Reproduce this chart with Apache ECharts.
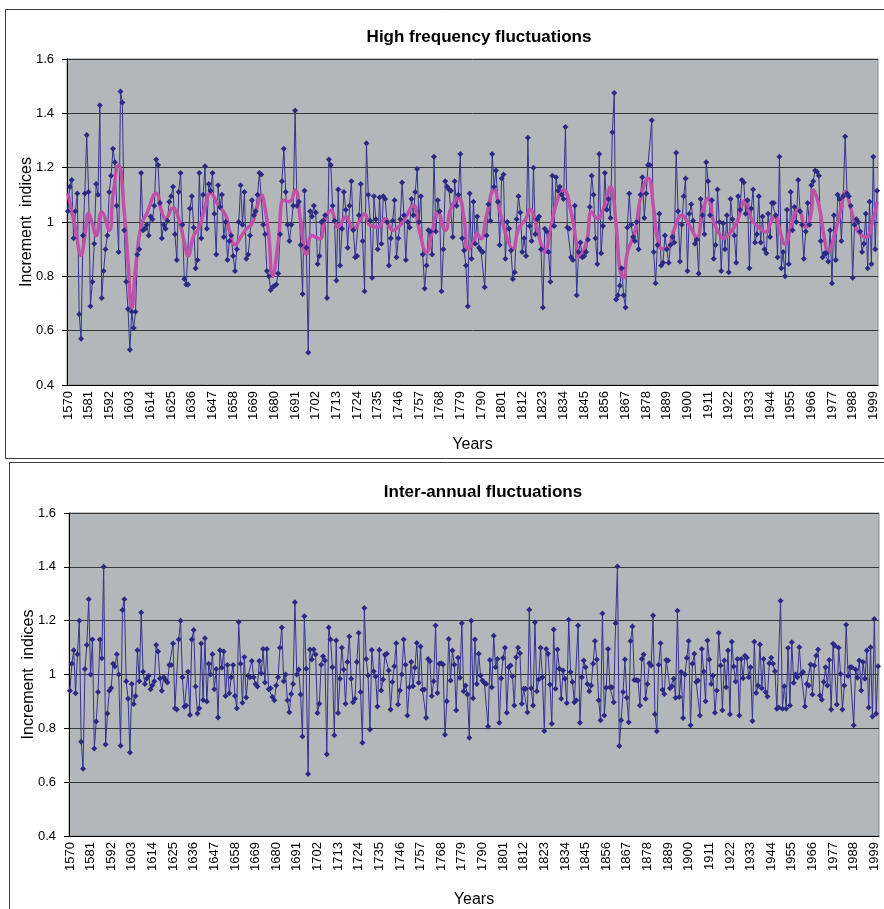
<!DOCTYPE html>
<html><head><meta charset="utf-8">
<script src="https://cdn.jsdelivr.net/npm/echarts@6/dist/echarts.min.js"></script>
<style>html,body{margin:0;padding:0;background:#fff}#c{width:884px;height:909px}</style>
</head><body><div id="c"></div>
<script>
const firstYear = 1570, lastYear = 2001;
const years = [];
for (let y = firstYear; y <= lastYear; y++) years.push(String(y));

// High frequency fluctuations: raw increment indices (1570 onwards, one per year)
const hfA = [1.04,1.13,1.155,0.94,1.04,1.105,0.66,0.57,0.95,1.105,
 1.32,1.11,0.69,0.78,0.92,1.14,1.10,1.43,0.72,0.82,
 0.90,0.95,1.11,1.17,1.27,1.22,1.06,0.89,1.48,1.44,
 0.97,0.78,0.68,0.53,0.67,0.61,0.67,0.88,0.90,1.18,
 0.97,0.975,0.99,0.95,1.02,1.01,1.06,1.23,1.21,1.07,
 0.94,0.99,0.975,1.005,1.075,1.095,1.13,0.955,0.86,
 1.11,1.18,0.99,0.79,0.77,0.77,1.05,1.095,0.98,0.83,
 0.86,1.18,0.94,1.10,1.205,0.975,1.14,1.115,1.18,1.03,
 0.88,1.135,1.055,1.10,0.945,1.0,0.86,0.93,0.95,0.875,
 0.82,0.90,1.00,1.135,0.99,1.11,0.865,0.88,0.95,1.08,
 1.025,1.04,1.10,1.18,1.175,0.99,0.955,0.82,0.80,0.75];
const hfB = [0.76,0.765,0.77,0.81,0.955,1.15,1.27,1.11,0.99,0.93,
 0.99,1.06,1.41,1.06,1.075,0.915,0.735,1.115,0.905,0.52,
 1.04,1.02,1.06,1.035,0.845,0.875,1.0,1.005,1.025,0.72,
 1.23,1.21,1.06,1.005,0.785,1.12,0.84,0.975,1.11,1.045,
 0.905,1.06,1.15,0.97,0.87,0.875,1.025,1.14,0.93,0.745,
 1.29,1.10,1.005,0.795,1.095,1.01,0.9,1.09,0.92,
 1.095,1.085,1.0,0.84,0.94,1.005,1.08,0.87,0.94,1.01,
 1.145,1.025,0.86,1.0,0.98,1.085,1.025,1.11,1.195,1.0,
 1.095,0.88,0.755,0.84,0.97,0.965,0.88,1.24,0.965,1.08,
 1.04,0.745,0.9,1.15,1.13,1.12,1.115,0.945,1.15,1.06,
 1.10,1.25,0.94,0.895,0.84,0.69,1.105,0.865,1.075,0.92];
const hfC = [1.02,0.905,0.895,0.89,0.76,0.95,1.065,1.005,1.25,1.13,
 1.19,1.075,0.915,1.16,1.175,0.865,1.0,0.975,0.895,0.79,
 0.815,1.01,1.095,1.035,0.89,0.94,0.875,1.31,0.985,0.93,
 1.20,0.955,1.01,1.02,0.90,0.685,0.975,0.965,0.89,0.78,
 1.17,0.985,1.165,1.115,1.13,1.10,1.085,1.35,0.98,
 0.975,0.87,0.86,1.06,0.73,0.89,0.925,0.87,0.875,0.89,
 0.935,1.055,1.17,1.10,0.94,0.845,1.25,0.885,0.985,1.18,
 1.045,1.085,1.015,1.33,1.475,0.715,0.73,0.765,0.83,0.73,
 0.685,0.98,1.105,0.99,0.945,0.93,1.0,0.90,1.10,1.165,
 1.015,1.105,1.21,1.21,1.375,0.89,0.775,0.915,1.03,0.84,
 0.85,0.95,0.90,0.85,0.915,0.945,0.925,1.255,1.04,0.855];
const hfD = [0.99,1.095,1.16,0.82,1.03,1.065,1.005,0.92,0.935,0.81,
 1.085,1.025,0.955,1.22,1.15,1.025,1.08,0.865,0.915,1.12,
 1.0,0.82,0.995,0.90,1.025,0.815,1.085,1.01,0.95,
 0.85,1.095,1.045,1.155,1.145,1.03,1.08,0.83,1.05,1.12,
 0.925,0.955,1.095,0.925,1.02,0.90,0.885,1.03,0.945,1.07,
 1.07,1.025,0.87,1.24,0.83,0.89,0.80,1.045,0.845,1.11,
 0.97,1.055,1.0,1.155,1.04,0.99,0.865,0.965,1.07,
 0.99,1.135,1.15,1.19,1.185,1.17,0.93,0.87,0.885,0.885,
 0.855,0.97,0.775,1.025,0.86,1.10,1.085,0.93,1.095,1.315,
 1.105,1.095,1.06,0.795,0.99,1.01,1.0,0.965,0.89,0.92,
 1.03,0.83,1.075,0.845,1.24,0.90,1.115];

// Smoothed curve (read at turning points)
const smoothYears = [1570,1574,1577,1579,1581,1583,1585,1588,1592,1594,1597,1600,1602,1604,1606,1609,1612,1617,1620,1622,1626,1629,1632,1634,1637,1640,1643,1646,1650,1654,1656,1659,1662,1665,1668,1671,1673,1675,1677,1679,1682,1685,1688,1691,1694,1697,1700,1704,1707,1710,1714,1718,1722,1725,1728,1731,1735,1739,1743,1747,1750,1754,1757,1761,1764,1767,1771,1774,1778,1781,1783,1786,1788,1790,1793,1797,1800,1804,1807,1810,1814,1816,1819,1822,1824,1827,1831,1834,1838,1841,1842,1846,1849,1852,1856,1859,1862,1864,1866,1868,1872,1875,1879,1882,1884,1887,1890,1893,1897,1901,1905,1908,1911,1914,1917,1919,1923,1926,1931,1934,1938,1942,1944,1947,1949,1952,1956,1959,1963,1966,1967,1970,1973,1975,1978,1982,1984,1987,1990,1993,1995,1999,2001];
const smoothVals = [1.105,0.975,0.878,0.95,1.031,0.994,0.95,1.037,0.969,1.10,1.209,1.037,0.851,0.683,0.826,0.988,1.031,1.106,1.037,1.012,1.052,1.012,0.925,0.876,0.95,0.981,1.056,1.106,1.062,1.025,0.969,0.916,0.944,0.975,0.994,1.062,1.10,1.05,0.95,0.80,0.925,1.081,1.075,1.118,1.0,0.882,0.95,0.938,1.006,1.043,0.981,1.019,0.971,1.0,1.029,0.988,0.981,1.012,0.969,0.988,1.019,1.062,0.975,0.888,0.963,1.037,0.969,1.05,1.087,1.012,0.901,0.925,0.957,0.938,1.025,1.118,1.043,0.938,0.901,0.975,1.012,1.047,1.0,0.919,0.888,0.975,1.087,1.118,1.037,0.913,0.87,0.919,1.037,1.012,1.062,1.13,0.988,0.826,0.795,0.888,0.963,1.087,1.161,1.05,0.938,0.901,0.907,0.975,1.025,0.988,0.944,1.037,1.087,1.0,0.957,0.94,0.963,0.994,1.081,1.012,0.981,0.963,0.994,1.025,0.975,0.919,1.006,1.047,0.981,1.037,1.118,1.062,0.938,0.888,0.944,1.056,1.112,1.05,0.975,0.95,0.944,1.012,1.075];

// Inter-annual fluctuations (1570 onwards, one per year)
const iaA = [0.94,1.04,1.09,0.93,1.075,1.20,0.75,0.65,1.02,1.11,
 1.28,1.0,1.13,0.725,0.825,0.935,1.13,1.06,1.40,0.74,
 0.855,0.94,0.95,1.04,1.03,1.075,1.0,0.735,1.24,1.28,
 0.975,0.91,0.71,0.965,0.89,0.92,1.09,0.975,1.23,1.01,
 0.965,0.985,0.995,0.945,0.96,0.975,1.11,1.085,0.985,0.94,
 0.99,0.98,0.97,1.035,1.035,1.115,0.875,0.87,1.13,
 1.20,0.99,0.88,0.885,1.01,0.85,1.13,1.165,0.955,0.855,
 0.875,1.115,0.905,1.135,0.9,1.04,1.0,1.075,0.945,1.02,
 0.84,1.09,1.025,1.085,0.92,1.035,0.93,0.99,1.035,0.92,
 0.875,1.195,1.04,0.895,1.065,0.915,0.995,0.99,1.05,0.99,
 0.965,0.955,1.05,1.005,1.095,0.97,1.095,0.945];
const iaB = [0.949,0.916,0.904,0.959,0.99,1.099,1.175,0.975,1.0,0.904,
 0.86,0.928,0.965,1.268,1.0,1.019,0.926,0.77,1.216,1.021,
 0.63,1.093,1.056,1.093,1.074,0.857,0.891,1.036,1.068,
 1.052,0.704,1.175,1.13,1.027,0.774,1.126,0.857,0.984,1.099,
 1.019,0.891,1.046,1.141,0.984,0.897,0.91,1.046,1.154,0.935,
 0.746,1.247,1.058,0.996,0.796,1.091,1.012,0.993,0.881,1.091,
 0.941,0.981,1.073,1.077,1.015,0.87,0.972,1.031,1.116,0.889,
 0.941,1.0,1.13,1.036,0.848,0.953,1.046,0.956,1.025,1.117,
 0.969,1.104,0.943,0.944,0.839,1.058,1.049,0.92,0.975,1.182,
 0.931,1.04,1.042,1.037,0.776,0.901,1.132,0.978,1.089,1.036,
 0.867,1.062,0.988,1.19,0.938,0.959,0.926,0.765,1.2,0.912];
const iaC = [1.13,0.965,1.077,0.996,0.978,0.969,0.965,0.807,1.054,0.953,
 1.144,1.027,1.058,0.821,0.986,1.061,1.099,0.858,1.027,1.033,
 0.993,0.885,1.064,1.099,1.079,0.891,0.947,0.947,0.86,
 1.241,0.949,0.885,1.194,0.938,0.981,1.099,0.99,0.79,1.095,
 1.077,0.963,0.817,1.167,0.947,1.093,1.021,0.91,1.015,0.984,
 0.894,1.203,1.009,0.972,0.897,0.904,1.182,0.821,0.99,1.052,
 1.027,0.965,0.938,0.959,1.04,1.124,1.056,0.904,0.83,1.227,
 0.848,0.951,1.095,0.953,0.953,0.897,1.19,1.401,0.734,0.83,
 0.935,1.056,0.914,0.823,1.124,1.178,0.98,0.98,0.978,0.885,
 1.058,1.074,0.91,0.965,1.042,1.033,1.219,0.852,0.789,1.036,
 1.116,0.943,0.928,1.054,1.052,0.949,0.956,0.984,0.914,1.237];
const iaD = [0.916,1.009,0.838,1.0,1.061,1.124,0.811,1.04,1.077,
 0.972,0.978,0.848,1.095,1.011,0.901,1.126,1.056,0.965,0.996,
 0.858,0.941,1.154,1.033,0.867,1.052,0.953,1.089,0.852,1.122,
 1.03,0.974,1.058,0.848,1.058,0.986,1.07,1.062,0.99,1.027,
 0.827,1.122,0.931,0.959,1.111,0.949,1.058,0.935,0.918,1.042,
 1.062,1.04,1.012,0.873,0.877,1.274,0.873,0.956,0.873,1.098,
 0.885,1.12,0.969,1.0,0.99,1.101,1.002,1.009,0.881,0.965,
 0.959,1.037,0.926,1.033,1.07,1.093,0.922,0.906,0.972,
 1.027,0.959,1.054,0.87,1.114,1.107,0.889,1.099,1.002,0.87,
 0.959,1.185,0.994,1.027,1.027,0.811,1.019,0.988,1.052,0.941,
 1.046,0.984,1.089,0.877,1.101,0.844,1.206,0.854,1.031];

const hfRaw = [].concat(hfA, hfB, hfC, hfD);
const iaRaw = [].concat(iaA, iaB, iaC, iaD);
const smoothData = smoothYears.map((y, i) => [String(y), smoothVals[i]]);

const FONT = 'Liberation Sans, Arial, sans-serif';
const NAVY = '#2B2B86';

function xAx(g, gap) {
  return {
    gridIndex: g, type: 'category', data: years, boundaryGap: true,
    axisLine: { lineStyle: { color: '#000', width: 1 } },
    axisTick: { interval: 0, length: 4, lineStyle: { color: '#000', width: 1 } },
    axisLabel: { interval: 10, rotate: 90, fontSize: 13, color: '#000', fontFamily: FONT, margin: 6 },
    splitLine: { show: false },
    name: 'Years', nameLocation: 'middle', nameGap: gap, nameMoveOverlap: false,
    nameTextStyle: { fontSize: 16, color: '#000', fontFamily: FONT }
  };
}
function yAx(g) {
  return {
    gridIndex: g, type: 'value', min: 0.4, max: 1.6, interval: 0.2,
    axisLine: { show: true, lineStyle: { color: '#000', width: 1 } },
    axisTick: { show: true, length: 5, lineStyle: { color: '#000' } },
    axisLabel: { fontSize: 13, color: '#000', fontFamily: FONT, margin: 13 },
    splitLine: { show: true, lineStyle: { color: '#383838', width: 1 } },
    name: 'Increment  indices', nameLocation: 'middle', nameGap: 32, nameMoveOverlap: false,
    nameTextStyle: { fontSize: 16, color: '#000', fontFamily: FONT }
  };
}

const chart = echarts.init(document.getElementById('c'), null, { renderer: 'canvas' });
chart.setOption({
  animation: false,
  backgroundColor: '#fff',
  textStyle: { fontFamily: FONT },
  title: [
    { text: 'High frequency fluctuations', left: 474, top: 24, textAlign: 'center',
      textStyle: { fontSize: 17, fontWeight: 'bold', color: '#000', fontFamily: FONT } },
    { text: 'Inter-annual fluctuations', left: 478, top: 479, textAlign: 'center',
      textStyle: { fontSize: 17, fontWeight: 'bold', color: '#000', fontFamily: FONT } }
  ],
  graphic: [
    { type: 'rect', silent: true, z: -1, shape: { x: 5.5, y: 9.5, width: 900, height: 449 },
      style: { fill: null, stroke: '#3c3c3c', lineWidth: 1 } },
    { type: 'rect', silent: true, z: -1, shape: { x: 9.5, y: 462.5, width: 900, height: 460 },
      style: { fill: null, stroke: '#3c3c3c', lineWidth: 1 } }
  ],
  grid: [
    { left: 67, top: 59, width: 811, height: 326, show: true, backgroundColor: '#B4B7B9', borderColor: '#8a8a8a', borderWidth: 1 },
    { left: 69, top: 513, width: 810, height: 326, show: true, backgroundColor: '#B4B7B9', borderColor: '#8a8a8a', borderWidth: 1 }
  ],
  xAxis: [xAx(0, 52), xAx(1, 56)],
  yAxis: [yAx(0), yAx(1)],
  series: [
    { type: 'line', xAxisIndex: 0, yAxisIndex: 0, data: hfRaw, showAllSymbol: true,
      symbol: 'diamond', symbolSize: 6, itemStyle: { color: NAVY },
      lineStyle: { color: '#34348E', width: 1 } },
    { type: 'line', xAxisIndex: 0, yAxisIndex: 0, data: smoothData, smooth: 0.5,
      symbol: 'none', lineStyle: { color: '#C050A8', width: 3.5 }, z: 3 },
    { type: 'line', xAxisIndex: 1, yAxisIndex: 1, data: iaRaw, showAllSymbol: true,
      symbol: 'diamond', symbolSize: 6, itemStyle: { color: NAVY },
      lineStyle: { color: '#34348E', width: 1 } }
  ]
});
</script></body></html>
